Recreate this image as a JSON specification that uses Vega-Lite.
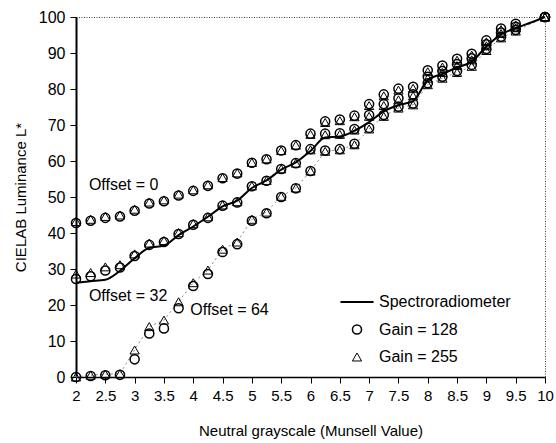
{
  "$schema": "https://vega.github.io/schema/vega-lite/v6.json",
  "width": 469,
  "height": 360,
  "autosize": {"type": "none"},
  "padding": {"left": 76, "top": 17, "right": 11, "bottom": 66},
  "background": "white",
  "config": {
    "font": "Liberation Sans",
    "view": {"stroke": "#444", "strokeDash": [1, 1.5], "strokeWidth": 1},
    "axis": {"grid": false, "labelColor": "black", "titleColor": "black", "tickColor": "black", "domainColor": "black", "labelFont": "Liberation Sans", "titleFont": "Liberation Sans", "titleFontWeight": "normal"}
  },
  "datasets": {
    "pts": [
      {"x":2,"offset":"0","gain":"Gain = 128","L":42.8},{"x":2.25,"offset":"0","gain":"Gain = 128","L":43.4},{"x":2.5,"offset":"0","gain":"Gain = 128","L":44.2},{"x":2.75,"offset":"0","gain":"Gain = 128","L":44.6},{"x":3,"offset":"0","gain":"Gain = 128","L":46.2},{"x":3.25,"offset":"0","gain":"Gain = 128","L":48.2},{"x":3.5,"offset":"0","gain":"Gain = 128","L":48.8},{"x":3.75,"offset":"0","gain":"Gain = 128","L":50.4},{"x":4,"offset":"0","gain":"Gain = 128","L":51.7},{"x":4.25,"offset":"0","gain":"Gain = 128","L":53.1},{"x":4.5,"offset":"0","gain":"Gain = 128","L":55.2},{"x":4.75,"offset":"0","gain":"Gain = 128","L":56.5},{"x":5,"offset":"0","gain":"Gain = 128","L":59.5},{"x":5.25,"offset":"0","gain":"Gain = 128","L":60.5},{"x":5.5,"offset":"0","gain":"Gain = 128","L":62.9},{"x":5.75,"offset":"0","gain":"Gain = 128","L":64.4},{"x":6,"offset":"0","gain":"Gain = 128","L":67.6},{"x":6.25,"offset":"0","gain":"Gain = 128","L":71.0},{"x":6.5,"offset":"0","gain":"Gain = 128","L":71.5},{"x":6.75,"offset":"0","gain":"Gain = 128","L":72.6},{"x":7,"offset":"0","gain":"Gain = 128","L":75.8},{"x":7.25,"offset":"0","gain":"Gain = 128","L":78.5},{"x":7.5,"offset":"0","gain":"Gain = 128","L":80.1},{"x":7.75,"offset":"0","gain":"Gain = 128","L":80.6},{"x":8,"offset":"0","gain":"Gain = 128","L":85.2},{"x":8.25,"offset":"0","gain":"Gain = 128","L":86.5},{"x":8.5,"offset":"0","gain":"Gain = 128","L":88.4},{"x":8.75,"offset":"0","gain":"Gain = 128","L":89.8},{"x":9,"offset":"0","gain":"Gain = 128","L":93.5},{"x":9.25,"offset":"0","gain":"Gain = 128","L":96.8},{"x":9.5,"offset":"0","gain":"Gain = 128","L":98.1},{"x":10,"offset":"0","gain":"Gain = 128","L":100},
      {"x":2,"offset":"0","gain":"Gain = 255","L":43.2},{"x":2.25,"offset":"0","gain":"Gain = 255","L":43.8},{"x":2.5,"offset":"0","gain":"Gain = 255","L":44.6},{"x":2.75,"offset":"0","gain":"Gain = 255","L":45.0},{"x":3,"offset":"0","gain":"Gain = 255","L":46.6},{"x":3.25,"offset":"0","gain":"Gain = 255","L":48.6},{"x":3.5,"offset":"0","gain":"Gain = 255","L":49.2},{"x":3.75,"offset":"0","gain":"Gain = 255","L":50.8},{"x":4,"offset":"0","gain":"Gain = 255","L":52.0},{"x":4.25,"offset":"0","gain":"Gain = 255","L":53.4},{"x":4.5,"offset":"0","gain":"Gain = 255","L":55.4},{"x":4.75,"offset":"0","gain":"Gain = 255","L":56.7},{"x":5,"offset":"0","gain":"Gain = 255","L":59.6},{"x":5.25,"offset":"0","gain":"Gain = 255","L":60.6},{"x":5.5,"offset":"0","gain":"Gain = 255","L":62.9},{"x":5.75,"offset":"0","gain":"Gain = 255","L":64.4},{"x":6,"offset":"0","gain":"Gain = 255","L":67.4},{"x":6.25,"offset":"0","gain":"Gain = 255","L":70.7},{"x":6.5,"offset":"0","gain":"Gain = 255","L":71.2},{"x":6.75,"offset":"0","gain":"Gain = 255","L":72.3},{"x":7,"offset":"0","gain":"Gain = 255","L":75.4},{"x":7.25,"offset":"0","gain":"Gain = 255","L":78.1},{"x":7.5,"offset":"0","gain":"Gain = 255","L":79.7},{"x":7.75,"offset":"0","gain":"Gain = 255","L":80.2},{"x":8,"offset":"0","gain":"Gain = 255","L":84.8},{"x":8.25,"offset":"0","gain":"Gain = 255","L":86.1},{"x":8.5,"offset":"0","gain":"Gain = 255","L":88.0},{"x":8.75,"offset":"0","gain":"Gain = 255","L":89.4},{"x":9,"offset":"0","gain":"Gain = 255","L":93.1},{"x":9.25,"offset":"0","gain":"Gain = 255","L":96.5},{"x":9.5,"offset":"0","gain":"Gain = 255","L":97.8},{"x":10,"offset":"0","gain":"Gain = 255","L":100},
      {"x":2,"offset":"32","gain":"Gain = 128","L":27.2},{"x":2.25,"offset":"32","gain":"Gain = 128","L":28.0},{"x":2.5,"offset":"32","gain":"Gain = 128","L":29.6},{"x":2.75,"offset":"32","gain":"Gain = 128","L":30.4},{"x":3,"offset":"32","gain":"Gain = 128","L":33.6},{"x":3.25,"offset":"32","gain":"Gain = 128","L":36.7},{"x":3.5,"offset":"32","gain":"Gain = 128","L":37.5},{"x":3.75,"offset":"32","gain":"Gain = 128","L":39.7},{"x":4,"offset":"32","gain":"Gain = 128","L":42.3},{"x":4.25,"offset":"32","gain":"Gain = 128","L":44.2},{"x":4.5,"offset":"32","gain":"Gain = 128","L":47.6},{"x":4.75,"offset":"32","gain":"Gain = 128","L":48.5},{"x":5,"offset":"32","gain":"Gain = 128","L":53.0},{"x":5.25,"offset":"32","gain":"Gain = 128","L":54.5},{"x":5.5,"offset":"32","gain":"Gain = 128","L":57.8},{"x":5.75,"offset":"32","gain":"Gain = 128","L":59.4},{"x":6,"offset":"32","gain":"Gain = 128","L":63.3},{"x":6.25,"offset":"32","gain":"Gain = 128","L":67.6},{"x":6.5,"offset":"32","gain":"Gain = 128","L":67.7},{"x":6.75,"offset":"32","gain":"Gain = 128","L":68.9},{"x":7,"offset":"32","gain":"Gain = 128","L":72.8},{"x":7.25,"offset":"32","gain":"Gain = 128","L":75.8},{"x":7.5,"offset":"32","gain":"Gain = 128","L":77.4},{"x":7.75,"offset":"32","gain":"Gain = 128","L":78.5},{"x":8,"offset":"32","gain":"Gain = 128","L":83.4},{"x":8.25,"offset":"32","gain":"Gain = 128","L":85.0},{"x":8.5,"offset":"32","gain":"Gain = 128","L":86.9},{"x":8.75,"offset":"32","gain":"Gain = 128","L":88.5},{"x":9,"offset":"32","gain":"Gain = 128","L":92.4},{"x":9.25,"offset":"32","gain":"Gain = 128","L":95.7},{"x":9.5,"offset":"32","gain":"Gain = 128","L":97.3},{"x":10,"offset":"32","gain":"Gain = 128","L":100},
      {"x":2,"offset":"32","gain":"Gain = 255","L":28.6},{"x":2.25,"offset":"32","gain":"Gain = 255","L":29.0},{"x":2.5,"offset":"32","gain":"Gain = 255","L":30.6},{"x":2.75,"offset":"32","gain":"Gain = 255","L":31.2},{"x":3,"offset":"32","gain":"Gain = 255","L":34.2},{"x":3.25,"offset":"32","gain":"Gain = 255","L":37.2},{"x":3.5,"offset":"32","gain":"Gain = 255","L":37.9},{"x":3.75,"offset":"32","gain":"Gain = 255","L":40.1},{"x":4,"offset":"32","gain":"Gain = 255","L":42.6},{"x":4.25,"offset":"32","gain":"Gain = 255","L":44.5},{"x":4.5,"offset":"32","gain":"Gain = 255","L":47.8},{"x":4.75,"offset":"32","gain":"Gain = 255","L":48.7},{"x":5,"offset":"32","gain":"Gain = 255","L":53.1},{"x":5.25,"offset":"32","gain":"Gain = 255","L":54.6},{"x":5.5,"offset":"32","gain":"Gain = 255","L":57.8},{"x":5.75,"offset":"32","gain":"Gain = 255","L":59.4},{"x":6,"offset":"32","gain":"Gain = 255","L":63.1},{"x":6.25,"offset":"32","gain":"Gain = 255","L":67.3},{"x":6.5,"offset":"32","gain":"Gain = 255","L":67.4},{"x":6.75,"offset":"32","gain":"Gain = 255","L":68.6},{"x":7,"offset":"32","gain":"Gain = 255","L":72.4},{"x":7.25,"offset":"32","gain":"Gain = 255","L":75.4},{"x":7.5,"offset":"32","gain":"Gain = 255","L":77.0},{"x":7.75,"offset":"32","gain":"Gain = 255","L":78.1},{"x":8,"offset":"32","gain":"Gain = 255","L":83.0},{"x":8.25,"offset":"32","gain":"Gain = 255","L":84.6},{"x":8.5,"offset":"32","gain":"Gain = 255","L":86.5},{"x":8.75,"offset":"32","gain":"Gain = 255","L":88.1},{"x":9,"offset":"32","gain":"Gain = 255","L":92.0},{"x":9.25,"offset":"32","gain":"Gain = 255","L":95.4},{"x":9.5,"offset":"32","gain":"Gain = 255","L":97.0},{"x":10,"offset":"32","gain":"Gain = 255","L":100},
      {"x":2,"offset":"64","gain":"Gain = 128","L":0},{"x":2.25,"offset":"64","gain":"Gain = 128","L":0.3},{"x":2.5,"offset":"64","gain":"Gain = 128","L":0.5},{"x":2.75,"offset":"64","gain":"Gain = 128","L":0.6},{"x":3,"offset":"64","gain":"Gain = 128","L":4.9},{"x":3.25,"offset":"64","gain":"Gain = 128","L":12.1},{"x":3.5,"offset":"64","gain":"Gain = 128","L":13.5},{"x":3.75,"offset":"64","gain":"Gain = 128","L":19.1},{"x":4,"offset":"64","gain":"Gain = 128","L":25.3},{"x":4.25,"offset":"64","gain":"Gain = 128","L":28.6},{"x":4.5,"offset":"64","gain":"Gain = 128","L":34.7},{"x":4.75,"offset":"64","gain":"Gain = 128","L":36.9},{"x":5,"offset":"64","gain":"Gain = 128","L":43.4},{"x":5.25,"offset":"64","gain":"Gain = 128","L":45.5},{"x":5.5,"offset":"64","gain":"Gain = 128","L":50.0},{"x":5.75,"offset":"64","gain":"Gain = 128","L":52.4},{"x":6,"offset":"64","gain":"Gain = 128","L":57.2},{"x":6.25,"offset":"64","gain":"Gain = 128","L":62.9},{"x":6.5,"offset":"64","gain":"Gain = 128","L":63.3},{"x":6.75,"offset":"64","gain":"Gain = 128","L":64.8},{"x":7,"offset":"64","gain":"Gain = 128","L":69.2},{"x":7.25,"offset":"64","gain":"Gain = 128","L":72.8},{"x":7.5,"offset":"64","gain":"Gain = 128","L":75.1},{"x":7.75,"offset":"64","gain":"Gain = 128","L":76.0},{"x":8,"offset":"64","gain":"Gain = 128","L":81.6},{"x":8.25,"offset":"64","gain":"Gain = 128","L":83.4},{"x":8.5,"offset":"64","gain":"Gain = 128","L":85.0},{"x":8.75,"offset":"64","gain":"Gain = 128","L":86.7},{"x":9,"offset":"64","gain":"Gain = 128","L":91.1},{"x":9.25,"offset":"64","gain":"Gain = 128","L":94.5},{"x":9.5,"offset":"64","gain":"Gain = 128","L":96.4},{"x":10,"offset":"64","gain":"Gain = 128","L":100},
      {"x":2,"offset":"64","gain":"Gain = 255","L":0},{"x":2.25,"offset":"64","gain":"Gain = 255","L":0.5},{"x":2.5,"offset":"64","gain":"Gain = 255","L":0.8},{"x":2.75,"offset":"64","gain":"Gain = 255","L":0.9},{"x":3,"offset":"64","gain":"Gain = 255","L":7.5},{"x":3.25,"offset":"64","gain":"Gain = 255","L":14.0},{"x":3.5,"offset":"64","gain":"Gain = 255","L":15.8},{"x":3.75,"offset":"64","gain":"Gain = 255","L":20.9},{"x":4,"offset":"64","gain":"Gain = 255","L":26.2},{"x":4.25,"offset":"64","gain":"Gain = 255","L":29.7},{"x":4.5,"offset":"64","gain":"Gain = 255","L":35.5},{"x":4.75,"offset":"64","gain":"Gain = 255","L":37.5},{"x":5,"offset":"64","gain":"Gain = 255","L":43.8},{"x":5.25,"offset":"64","gain":"Gain = 255","L":45.8},{"x":5.5,"offset":"64","gain":"Gain = 255","L":50.2},{"x":5.75,"offset":"64","gain":"Gain = 255","L":52.5},{"x":6,"offset":"64","gain":"Gain = 255","L":57.2},{"x":6.25,"offset":"64","gain":"Gain = 255","L":62.7},{"x":6.5,"offset":"64","gain":"Gain = 255","L":63.1},{"x":6.75,"offset":"64","gain":"Gain = 255","L":64.5},{"x":7,"offset":"64","gain":"Gain = 255","L":68.9},{"x":7.25,"offset":"64","gain":"Gain = 255","L":72.4},{"x":7.5,"offset":"64","gain":"Gain = 255","L":74.7},{"x":7.75,"offset":"64","gain":"Gain = 255","L":75.6},{"x":8,"offset":"64","gain":"Gain = 255","L":81.2},{"x":8.25,"offset":"64","gain":"Gain = 255","L":83.0},{"x":8.5,"offset":"64","gain":"Gain = 255","L":84.6},{"x":8.75,"offset":"64","gain":"Gain = 255","L":86.3},{"x":9,"offset":"64","gain":"Gain = 255","L":90.7},{"x":9.25,"offset":"64","gain":"Gain = 255","L":94.2},{"x":9.5,"offset":"64","gain":"Gain = 255","L":96.1},{"x":10,"offset":"64","gain":"Gain = 255","L":100}
    ],
    "spectro": [
      {"x":2,"L":26.2},{"x":2.25,"L":26.6},{"x":2.5,"L":27.0},{"x":2.75,"L":29.5},{"x":3,"L":33.0},{"x":3.25,"L":35.9},{"x":3.5,"L":36.5},{"x":3.75,"L":39.4},{"x":4,"L":41.8},{"x":4.25,"L":44.5},{"x":4.5,"L":47.4},{"x":4.75,"L":49.0},{"x":5,"L":52.5},{"x":5.25,"L":54.6},{"x":5.5,"L":57.6},{"x":5.75,"L":59.6},{"x":6,"L":62.8},{"x":6.25,"L":66.5},{"x":6.5,"L":66.8},{"x":6.75,"L":68.4},{"x":7,"L":70.8},{"x":7.25,"L":73.8},{"x":7.5,"L":75.5},{"x":7.75,"L":76.6},{"x":8,"L":82.5},{"x":8.25,"L":84.2},{"x":8.5,"L":86.0},{"x":8.75,"L":87.6},{"x":9,"L":91.8},{"x":9.25,"L":95.2},{"x":9.5,"L":96.9},{"x":9.75,"L":98.4},{"x":10,"L":100}
    ],
    "notes": [
      {"x":2.22,"L":53.3,"t":"Offset = 0"},
      {"x":2.22,"L":22.5,"t":"Offset = 32"},
      {"x":3.95,"L":18.6,"t":"Offset = 64"}
    ]
  },
  "encoding": {
    "x": {"field": "x", "type": "quantitative", "scale": {"domain": [2, 10], "nice": false, "zero": false},
      "axis": {"values": [2,2.5,3,3.5,4,4.5,5,5.5,6,6.5,7,7.5,8,8.5,9,9.5,10], "format": ".1~f", "labelFontSize": 15, "tickSize": 6, "labelPadding": 5, "domainWidth": 1.5, "title": "Neutral grayscale (Munsell Value)", "titleFontSize": 15, "titlePadding": 20, "labelFlush": false}},
    "y": {"field": "L", "type": "quantitative", "scale": {"domain": [0, 100], "nice": false},
      "axis": {"values": [0,10,20,30,40,50,60,70,80,90,100], "labelFontSize": 16, "tickSize": 6, "labelPadding": 5, "domainWidth": 2, "title": "CIELAB Luminance L*", "titleFontSize": 15, "titlePadding": 10, "labelFlush": false}}
  },
  "layer": [
    {
      "data": {"name": "pts"},
      "transform": [{"filter": "datum.offset == '64' && datum.gain == 'Gain = 255'"}],
      "mark": {"type": "line", "color": "#8a8a8a", "strokeWidth": 1, "strokeDash": [2, 3]}
    },
    {
      "data": {"name": "spectro"},
      "mark": {"type": "line", "color": "black", "strokeWidth": 2, "interpolate": "monotone"}
    },
    {
      "data": {"name": "pts"},
      "mark": {"type": "point", "filled": false, "color": "black", "opacity": 1},
      "encoding": {
        "shape": {"field": "gain", "type": "nominal",
          "scale": {"domain": ["Spectroradiometer", "Gain = 128", "Gain = 255"], "range": ["M-3.7,0L3.7,0", "circle", "triangle-up"]},
          "legend": {"title": null, "orient": "none", "legendX": 273, "legendY": 277, "padding": 0, "labelFontSize": 16, "labelFont": "Liberation Sans", "labelColor": "black", "labelOffset": 14, "rowPadding": 11.5, "symbolStrokeColor": "black"}},
        "size": {"field": "gain", "type": "nominal",
          "scale": {"domain": ["Spectroradiometer", "Gain = 128", "Gain = 255"], "range": [80, 85, 32]}},
        "strokeWidth": {"field": "gain", "type": "nominal",
          "scale": {"domain": ["Spectroradiometer", "Gain = 128", "Gain = 255"], "range": [2, 1, 1]}}
      }
    },
    {
      "data": {"name": "notes"},
      "mark": {"type": "text", "align": "left", "baseline": "middle", "fontSize": 16, "font": "Liberation Sans", "color": "black"},
      "encoding": {"text": {"field": "t"}}
    }
  ]
}
